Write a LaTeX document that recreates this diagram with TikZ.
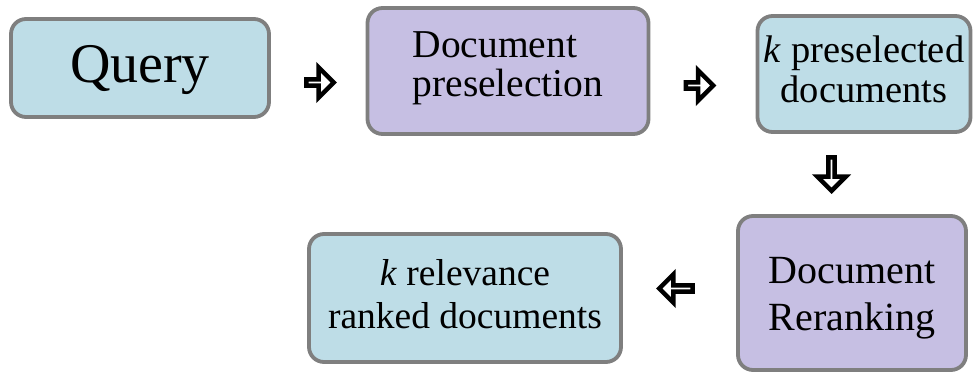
\documentclass[tikz,border=0pt]{standalone}
\usepackage{fontspec}
\setmainfont{Liberation Serif}
\usetikzlibrary{shapes.arrows}
\definecolor{boxblue}{HTML}{BEDDE7}
\definecolor{boxpurple}{HTML}{C6BFE3}
\definecolor{boxedge}{HTML}{7F7F7F}
\tikzset{
  stage/.style={draw=boxedge, line width=3.8pt, rounded corners=15pt,
    inner sep=0pt, text depth=0pt},
  bluebox/.style={stage, fill=boxblue},
  purplebox/.style={stage, fill=boxpurple},
  flowarrow/.style={single arrow, draw=black, fill=white, line width=4.5pt,
    single arrow tip angle=90, inner sep=0pt},
  sidearrow/.style={flowarrow, minimum height=27.5pt, minimum width=30.5pt,
    single arrow head extend=9pt},
  turnarrow/.style={flowarrow, minimum height=33.5pt, minimum width=28.5pt,
    single arrow head extend=8pt},
}
\begin{document}
\begin{tikzpicture}[x=1pt, y=-1pt]
  \useasboundingbox (0,0) rectangle (975,374);

  % processing stages
  \node[bluebox, minimum width=258pt, minimum height=98pt,
        font=\fontsize{56}{56}\selectfont, text height=30pt] (query)
        at (140,68) {Query};
  \node[purplebox, minimum width=281pt, minimum height=126pt, align=left,
        font=\fontsize{39.5}{39}\selectfont, text height=52pt] (presel)
        at (508,71) {Document\\preselection};
  \node[bluebox, minimum width=213pt, minimum height=116pt, align=center,
        font=\fontsize{38.5}{40}\selectfont, text height=58pt] (kpre)
        at (864,74) {\textit{k} preselected\\documents};
  \node[purplebox, minimum width=228pt, minimum height=154pt, align=left,
        font=\fontsize{40}{47}\selectfont, text height=74pt] (rerank)
        at (852,293) {Document\\Reranking};
  \node[bluebox, minimum width=312pt, minimum height=128pt, align=center,
        font=\fontsize{37.5}{43}\selectfont, text height=60pt] (krel)
        at (465,298) {\textit{k} relevance\\ranked documents};

  % block arrows between the stages
  \node[sidearrow] (a1) at (318.5,82.5) {};
  \node[sidearrow] (a2) at (698,85.5) {};
  \node[turnarrow, shape border rotate=270] (a3) at (831.5,172.5) {};
  \node[turnarrow, shape border rotate=180] (a4) at (677.5,288.5) {};
\end{tikzpicture}
\end{document}
